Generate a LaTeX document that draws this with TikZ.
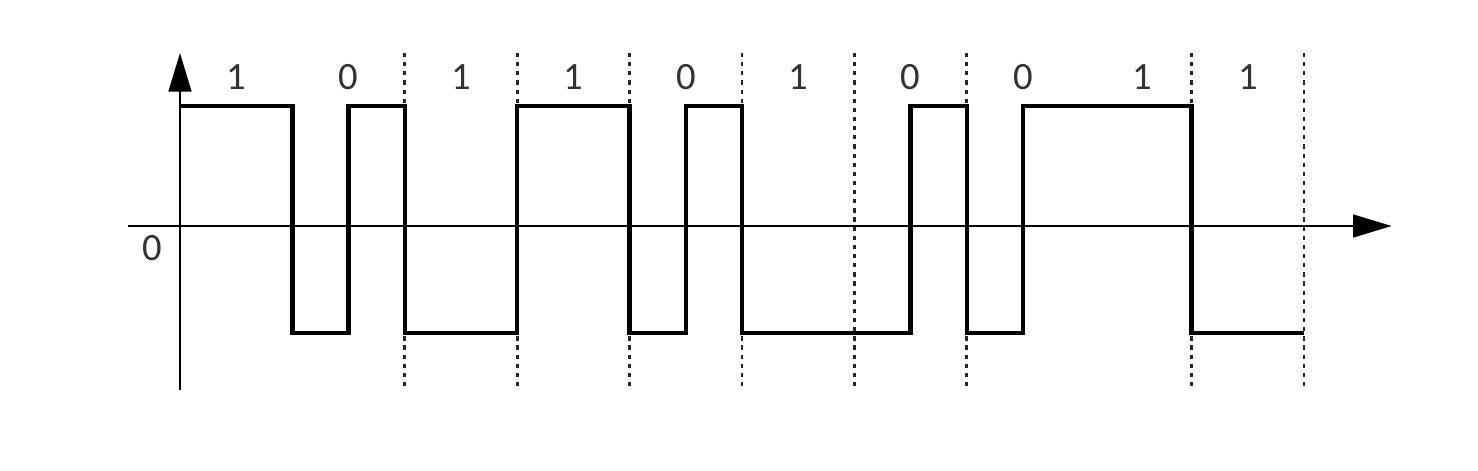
\documentclass[tikz,border=0pt]{standalone}
\usepackage{fontspec}
\setmainfont{Carlito}
\usetikzlibrary{arrows.meta}

\begin{document}
\begin{tikzpicture}[x=1.124cm,y=1cm,
  axis/.style={line width=0.6pt,-{Triangle[length=11pt,width=6.5pt]}},
  bitline/.style={line width=0.8pt,dash pattern=on 1.2pt off 1.4pt,black!85},
  signal/.style={line width=1.2pt,line join=miter},
  bitlabel/.style={font=\fontsize{11}{11}\selectfont,text=black!80}
]
\useasboundingbox (-1.6014,-2.44) rectangle (11.548,2.26);

% bit boundaries
\foreach \x in {2,3,4,5,6,7,9,10}
  \draw[bitline] (\x,1.73) -- (\x,-1.64);

% axes
\draw[axis] (-0.46,0) -- (10.78,0);
\draw[axis] (0,-1.64) -- (0,1.73);
\node[bitlabel] (zero) at (-0.25,-0.22) {0};

% signal
\draw[signal] (0,1.2) -- (1,1.2) -- (1,-1.07) -- (1.5,-1.07) -- (1.5,1.2)
  -- (2,1.2) -- (2,-1.07) -- (3,-1.07) -- (3,1.2) -- (4,1.2) -- (4,-1.07)
  -- (4.5,-1.07) -- (4.5,1.2) -- (5,1.2) -- (5,-1.07) -- (6.5,-1.07)
  -- (6.5,1.2) -- (7,1.2) -- (7,-1.07) -- (7.5,-1.07) -- (7.5,1.2)
  -- (9,1.2) -- (9,-1.07) -- (10,-1.07);

% bit values
\foreach \b/\x [count=\i] in {1/0.5,0/1.5,1/2.5,1/3.5,0/4.5,1/5.5,0/6.5,0/7.5,1/8.56,1/9.5}
  \node[bitlabel] (bit\i) at (\x,1.49) {\b};
\end{tikzpicture}
\end{document}
